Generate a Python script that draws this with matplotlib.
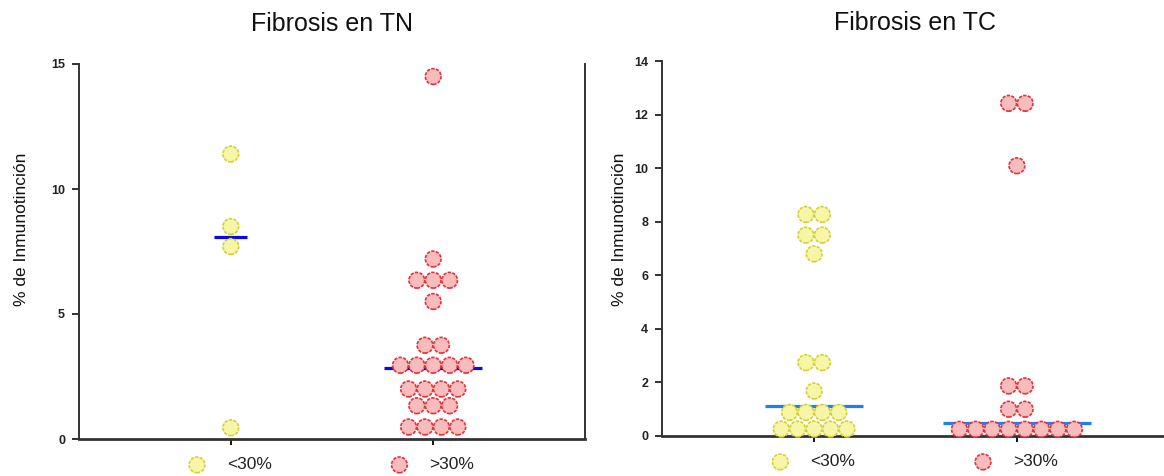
import numpy as np
import matplotlib
matplotlib.use("Agg")
import matplotlib.pyplot as plt

plt.rcParams['font.family'] = ['Liberation Sans', 'DejaVu Sans']

# % de inmunotinción por grupo de fibrosis
groups = ["<30%", ">30%"]

tn_low = [11.4, 8.5, 7.7, 0.45]
tn_high = [14.5, 7.2, 6.35, 6.35, 6.35, 5.5, 3.75, 3.75,
           2.95, 2.95, 2.95, 2.95, 2.95, 2.0, 2.0, 2.0, 2.0,
           1.33, 1.33, 1.33, 0.48, 0.48, 0.48, 0.48]
tn_median = [8.08, 2.83]

tc_low = [8.27, 8.27, 7.5, 7.5, 6.8, 2.74, 2.74, 1.68,
          0.88, 0.88, 0.88, 0.88, 0.26, 0.26, 0.26, 0.26, 0.26]
tc_high = [12.42, 12.42, 10.09, 1.87, 1.87, 1.0, 1.0,
           0.25, 0.25, 0.25, 0.25, 0.25, 0.25, 0.25, 0.25]
tc_median = [1.11, 0.5]

YELLOW = dict(face="#f6f6a6", edge="#d2d236")
RED = dict(face="#f8bcbc", edge="#e6303a")
STEP = 0.081          # horizontal spacing of tied points (data units)
MSIZE = 128
EDGE_DASH = (0, (2.0, 0.8))


def swarm(values, center):
    """Spread tied values side by side around the category position."""
    vals = np.asarray(values)
    xs = np.zeros(len(vals))
    widest = 1
    for v in np.unique(vals):
        idx = np.where(vals == v)[0]
        n = len(idx)
        widest = max(widest, n)
        xs[idx] = center + (np.arange(n) - (n - 1) / 2.0) * STEP
    return xs, vals, widest


def panel(ax, title, series, medians, ylim, yticks, line_color, title_pad, lab_x, lab_y):
    colors = [YELLOW, RED]
    for i, (vals, med) in enumerate(zip(series, medians)):
        cat = i + 1
        xs, ys, widest = swarm(vals, cat)
        half = (widest - 1) / 2.0 * STEP + STEP
        ax.plot([cat - half, cat + half], [med, med], color=line_color,
                lw=2.3, solid_capstyle="butt", zorder=2)
        ax.scatter(xs, ys, s=MSIZE, facecolor=colors[i]["face"],
                   edgecolor=colors[i]["edge"], linewidth=1.2,
                   linestyle=EDGE_DASH, zorder=3, clip_on=False)
        # category label drawn as marker + text under the axis
        tr = ax.get_xaxis_transform()
        ax.scatter([cat - 0.167], [-0.069], s=MSIZE, transform=tr,
                   facecolor=colors[i]["face"], edgecolor=colors[i]["edge"],
                   linewidth=1.2, linestyle=EDGE_DASH, clip_on=False)
        ax.text(cat - 0.018, -0.068, groups[i], transform=tr, ha="left",
                va="center", fontsize=12.5, color="#222222")

    ax.set_xlim(0.25, 2.75)
    ax.set_ylim(*ylim)
    ax.set_yticks(yticks)
    ax.set_xticks([1, 2])
    ax.set_xticklabels([])
    ax.tick_params(axis="y", direction="out", length=5, width=1.3,
                   pad=5, labelsize=9, colors="#222222")
    ax.tick_params(axis="x", direction="out", length=4, width=1.3)
    for lab in ax.get_yticklabels():
        lab.set_fontweight("bold")
    ax.spines["top"].set_visible(False)
    for side in ("left", "right"):
        ax.spines[side].set_linewidth(1.4)
        ax.spines[side].set_color("#333333")
    ax.spines["bottom"].set_linewidth(2.0)
    ax.spines["bottom"].set_color("#333333")
    ax.set_title(title, fontsize=18, pad=title_pad, color="#111111")
    ax.set_ylabel("% de Inmunotinción", fontsize=12.5, color="#111111")
    ax.yaxis.set_label_coords(lab_x, lab_y)


fig = plt.figure(figsize=(11.64, 4.76), dpi=100)
ax1 = fig.add_axes([79 / 1164, 1 - 439 / 476, 506 / 1164, 375 / 476])
ax2 = fig.add_axes([662 / 1164, 1 - 436 / 476, 507 / 1164, 375 / 476])

panel(ax1, "Fibrosis en TN", [tn_low, tn_high], tn_median, (0, 15),
      [0, 5, 10, 15], "#0a0ae0", 24, -0.099, 0.559)
panel(ax2, "Fibrosis en TC", [tc_low, tc_high], tc_median, (0, 14),
      np.arange(0, 15, 2), "#1f7ff0", 22, -0.069, 0.551)

fig.savefig("out.png", dpi=100)
